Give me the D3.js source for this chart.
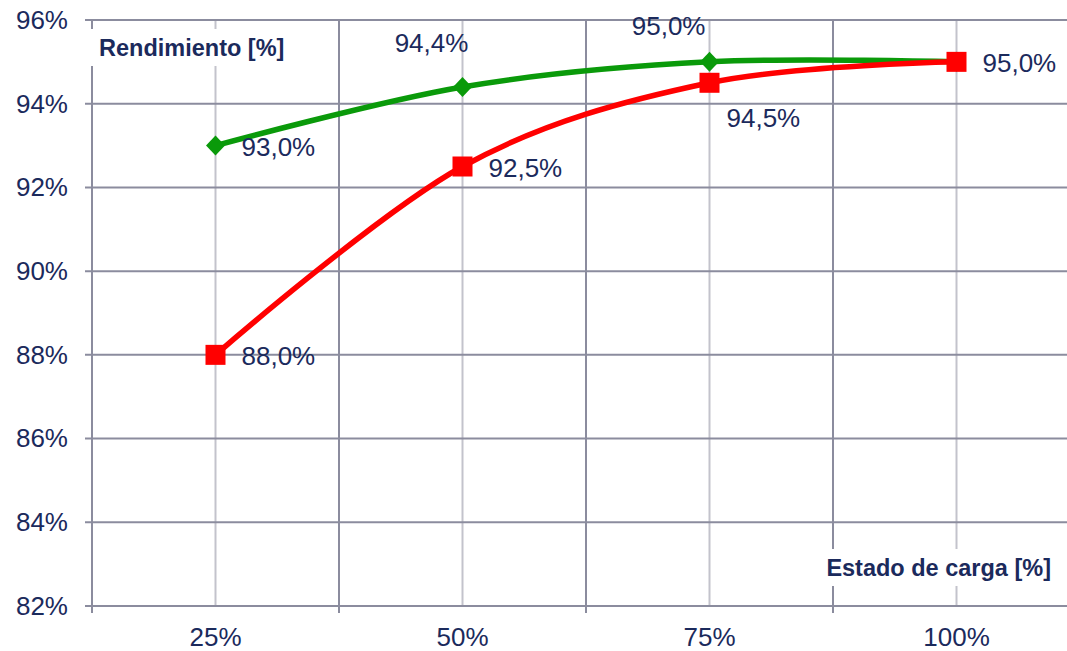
<!DOCTYPE html>
<html>
<head>
<meta charset="utf-8">
<script src="https://cdn.jsdelivr.net/npm/d3@7"></script>
<style>
  html, body { margin: 0; padding: 0; background: #fff; }
  svg { display: block; }
  text { font-family: "Liberation Sans", Arial, sans-serif; }
</style>
</head>
<body>
<script>
// Load state categories and efficiency series (percent)
const categories = ["25%", "50%", "75%", "100%"];
const greenValues = [93.0, 94.4, 95.0, 95.0];
const redValues = [88.0, 92.5, 94.5, 95.0];
const yTicks = [82, 84, 86, 88, 90, 92, 94, 96];
const yTitle = "Rendimiento [%]";
const xTitle = "Estado de carga [%]";

// Label placement per point: [anchor, dx, dy] relative to the marker
const greenLabelLayout = [["start", 26, 10], ["middle", -31, -35], ["end", -4, -27], null];
const redLabelLayout = [["start", 26, 10], ["start", 26, 10], ["start", 17, 44], ["start", 26, 10]];

const W = 1067, H = 651;
const margin = { left: 92, top: 20 };
const plotW = 988, plotH = 586;
const textColor = "#1b2a5c";
const darkGrid = "#8b8c9e";
const lightGrid = "#c3c3cc";
const green = "#0a9a0a";
const red = "#ff0000";
const fmt = v => v.toFixed(1).replace(".", ",") + "%";

const svg = d3.select("body").append("svg").attr("width", W).attr("height", H);
const g = svg.append("g").attr("transform", `translate(${margin.left},${margin.top})`);

const x = d3.scaleBand().domain(categories).range([0, plotW]).padding(0);
const y = d3.scaleLinear().domain([82, 96]).range([plotH, 0]);
const cx = c => x(c) + x.bandwidth() / 2;

// light vertical gridlines at category centres
g.append("g").selectAll("line").data(categories).join("line")
  .attr("x1", cx).attr("x2", cx).attr("y1", 0).attr("y2", plotH)
  .attr("stroke", lightGrid).attr("stroke-width", 2);

// horizontal gridlines with small outer ticks
g.append("g").selectAll("line").data(yTicks).join("line")
  .attr("x1", -7).attr("x2", plotW).attr("y1", d => y(d)).attr("y2", d => y(d))
  .attr("stroke", darkGrid).attr("stroke-width", 2);

// category boundaries, extending below the baseline as ticks
g.append("g").selectAll("line").data(categories).join("line")
  .attr("x1", d => x(d)).attr("x2", d => x(d)).attr("y1", 0).attr("y2", plotH + 7)
  .attr("stroke", darkGrid).attr("stroke-width", 2);

// y axis labels
const yAxis = g.append("g").call(
  d3.axisLeft(y).tickValues(yTicks).tickSize(0).tickPadding(24).tickFormat(d => d + "%")
);
yAxis.select(".domain").remove();
yAxis.selectAll("text").attr("font-size", 26).attr("fill", textColor)
  .style("font-family", '"Liberation Sans", Arial, sans-serif');

// x axis labels
const xAxis = g.append("g").attr("transform", `translate(0,${plotH})`).call(
  d3.axisBottom(x).tickSize(0).tickPadding(22)
);
xAxis.select(".domain").remove();
xAxis.selectAll("text").attr("font-size", 26).attr("fill", textColor)
  .style("font-family", '"Liberation Sans", Arial, sans-serif');

// axis titles on white boxes
function titleBox(label, tx, ty, anchor) {
  const grp = g.append("g");
  const t = grp.append("text").attr("x", tx).attr("y", ty)
    .attr("text-anchor", anchor).attr("font-size", 23.5).attr("font-weight", "bold")
    .attr("fill", textColor).text(label);
  const bb = t.node().getBBox();
  grp.insert("rect", "text")
    .attr("x", bb.x - 8).attr("y", ty - 27).attr("width", bb.width + 14).attr("height", 37)
    .attr("fill", "#fff");
}
titleBox(yTitle, 7, 36, "start");
titleBox(xTitle, 959, 556, "end");

// series
const line = d3.line()
  .x((d, i) => cx(categories[i]))
  .y(d => y(d))
  .curve(d3.curveCatmullRom.alpha(0));

g.append("path").datum(greenValues).attr("d", line)
  .attr("fill", "none").attr("stroke", green).attr("stroke-width", 5.5)
  .attr("stroke-linejoin", "round");
g.append("path").datum(redValues).attr("d", line)
  .attr("fill", "none").attr("stroke", red).attr("stroke-width", 5.5)
  .attr("stroke-linejoin", "round");

// markers: green diamonds, red squares
g.append("g").selectAll("path").data(greenValues).join("path")
  .attr("d", "M0,-10L9.5,0L0,10L-9.5,0Z")
  .attr("transform", (d, i) => `translate(${cx(categories[i])},${y(d)})`)
  .attr("fill", green);

g.append("g").selectAll("rect").data(redValues).join("rect")
  .attr("x", (d, i) => cx(categories[i]) - 10).attr("y", d => y(d) - 10)
  .attr("width", 20).attr("height", 20).attr("fill", red);

// data labels
function labels(values, layout) {
  g.append("g").selectAll("text")
    .data(values.map((v, i) => ({ v, i, p: layout[i] })).filter(d => d.p))
    .join("text")
    .attr("x", d => cx(categories[d.i]) + d.p[1])
    .attr("y", d => y(d.v) + d.p[2])
    .attr("text-anchor", d => d.p[0])
    .attr("font-size", 26).attr("fill", textColor)
    .text(d => fmt(d.v));
}
labels(greenValues, greenLabelLayout);
labels(redValues, redLabelLayout);
</script>
</body>
</html>
